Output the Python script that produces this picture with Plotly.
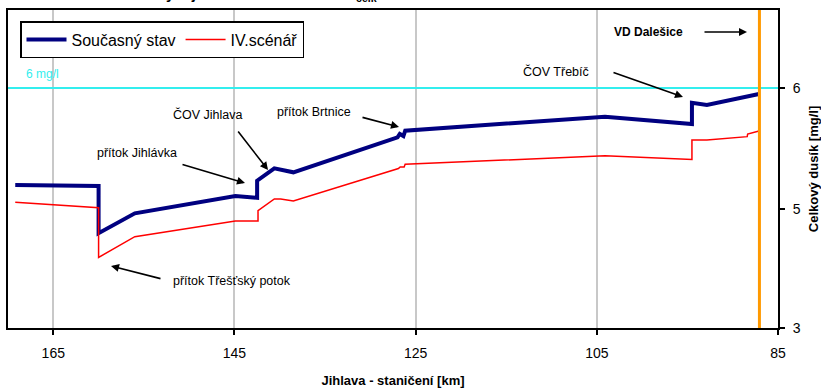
import plotly.graph_objects as go

# River chainage [km] and total nitrogen [mg/l] along the Jihlava
current_km = [169.2, 160.0, 160.0, 156.0, 144.9, 142.5, 142.5, 140.6, 138.5,
              127.0, 126.75, 126.35, 126.15, 104.1, 94.5, 94.5, 92.85, 87.1]
current_n = [5.198, 5.19, 4.80, 4.964, 5.107, 5.093, 5.234, 5.336, 5.303,
             5.592, 5.62, 5.603, 5.647, 5.763, 5.702, 5.878, 5.860, 5.95]

scenario_km = [169.2, 160.0, 160.0, 156.0, 144.9, 142.4, 142.4, 140.6, 139.9,
               138.5, 126.9, 126.71, 126.27, 126.16, 104.1, 94.5, 94.5, 92.85,
               88.4, 88.35, 87.1]
scenario_n = [5.055, 5.011, 4.60, 4.771, 4.90, 4.90, 4.986, 5.083, 5.083,
              5.066, 5.335, 5.347, 5.347, 5.369, 5.44, 5.41, 5.57, 5.57,
              5.598, 5.62, 5.645]

limit_n = 6.0          # 6 mg/l limit
dam_km = 87.05         # VD Dalešice

x_ticks = [165, 145, 125, 105, 85]
y_tickvals = [4.0165, 5, 6]
y_ticktext = ["3", "5", "6"]

FONT = "Liberation Sans, Arial, sans-serif"

# plot-area pixel frame used to place the callouts
L, R, T, B = 8, 778, 10, 328


def paper(xp, yp):
    return (xp - L) / (R - L), (B - yp) / (B - T)


fig = go.Figure()
fig.add_trace(go.Scatter(x=current_km, y=current_n, mode="lines",
                         name="Současný stav",
                         line=dict(color="#000080", width=4)))
fig.add_trace(go.Scatter(x=scenario_km, y=scenario_n, mode="lines",
                         name="IV.scénář",
                         line=dict(color="#FF0000", width=1.5)))

# limit line and reservoir marker
fig.add_shape(type="line", xref="paper", x0=0, x1=1, yref="y",
              y0=limit_n, y1=limit_n, line=dict(color="#33EEEE", width=2))
fig.add_shape(type="line", xref="x", x0=dam_km, x1=dam_km, yref="paper",
              y0=0, y1=1, line=dict(color="#FF9900", width=3))

annotations = []


def label(text, xp, yp, bold=False, color="black", size=12.5,
          yanchor="middle"):
    x, y = paper(xp, yp)
    annotations.append(dict(
        text=f"<b>{text}</b>" if bold else text, x=x, y=y, xref="paper",
        yref="paper", xanchor="left", yanchor=yanchor, showarrow=False,
        font=dict(family=FONT, size=size, color=color)))


def arrow(x0, y0, x1, y1):
    hx, hy = paper(x1, y1)
    annotations.append(dict(
        text="", x=hx, y=hy, xref="paper", yref="paper",
        ax=x0 - x1, ay=y0 - y1, axref="pixel", ayref="pixel",
        showarrow=True, arrowhead=2, arrowsize=1, arrowwidth=1.6,
        arrowcolor="black", standoff=0, startstandoff=0))


# chart heading, running off the top edge of the page
label("Vývoj koncentrace dusíku N<sub>celk</sub>", 154, 6, bold=True,
      size=15, yanchor="bottom")

label("6 mg/l", 24, 74, color="#33EEEE", size=12)
label("VD Dalešice", 612, 32, bold=True, size=12)
arrow(703, 32, 747, 32)
label("ČOV Třebíč", 521, 72)
arrow(612, 72, 683, 97)
label("ČOV Jihlava", 171, 114)
arrow(237, 130, 268, 170)
label("přítok Brtnice", 275, 112)
arrow(361, 117, 399, 127)
label("přítok Jihlávka", 95, 153)
arrow(181, 164, 245, 183)
label("přítok Třešťský potok", 171, 281)
arrow(162, 279, 111, 266)

fig.update_layout(
    width=821, height=390,
    margin=dict(l=L, r=821 - R, t=T, b=390 - B),
    paper_bgcolor="white", plot_bgcolor="white",
    font=dict(family=FONT, size=14, color="black"),
    showlegend=True,
    legend=dict(orientation="h", x=paper(20, 0)[0], y=paper(0, 21)[1],
                xanchor="left", yanchor="top",
                bgcolor="white", bordercolor="black", borderwidth=1.5,
                font=dict(family=FONT, size=16, color="black"),
                itemwidth=40, tracegroupgap=0),
    annotations=annotations,
    xaxis=dict(range=[170, 85], tickvals=x_ticks, ticks="outside",
               ticklen=5, tickcolor="black", tickwidth=1.5,
               showline=True, linecolor="black", linewidth=2, mirror=True,
               showgrid=True, gridcolor="#C8C8C8", gridwidth=1.5,
               zeroline=False, ticklabelstandoff=6, automargin=False,
               tickfont=dict(family=FONT, size=14),
               title=dict(text="<b>Jihlava - staničení [km]</b>",
                          font=dict(family=FONT, size=13), standoff=16)),
    yaxis=dict(side="right", range=[4.0165, 6.6446], tickvals=y_tickvals,
               ticktext=y_ticktext, ticks="outside", ticklen=5,
               tickcolor="black", tickwidth=1.5,
               showline=True, linecolor="black", linewidth=2, mirror=True,
               showgrid=False, zeroline=False, ticklabelstandoff=5,
               automargin=False,
               tickfont=dict(family=FONT, size=14),
               title=dict(text="<b>Celkový dusík [mg/l]</b>",
                          font=dict(family=FONT, size=13), standoff=10)),
)

fig.write_html("out.html")
